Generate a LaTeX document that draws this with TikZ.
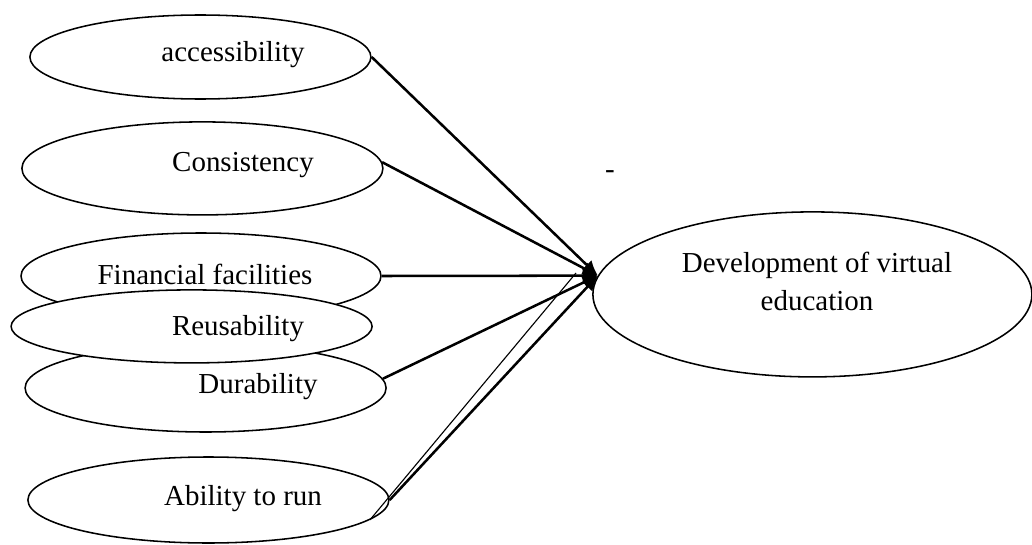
\documentclass[tikz,border=0pt]{standalone}
\usepackage{fontspec}
\setmainfont{Liberation Serif}
\usetikzlibrary{shapes.geometric,arrows.meta}

\tikzset{
    oval/.style={draw, ellipse, line width=1.1pt, fill=white, inner sep=0pt},
    link/.style={line width=1.8pt, -{Latex[length=0.38cm,width=0.34cm]}},
}

\begin{document}
\begin{tikzpicture}[font=\fontsize{20.6pt}{27pt}\selectfont]

    \useasboundingbox (0,0) rectangle (25.8,-13.625);

    % factors
    \node[oval, minimum width=8.525cm, minimum height=2.1cm] (acc) at (5.01,-1.425) {};
    \node[oval, minimum width=9.025cm, minimum height=2.325cm] (cons) at (5.06,-4.21) {};
    \node[oval, minimum width=9.0cm, minimum height=2.15cm] (fin) at (5.025,-6.9) {};
    \node[oval, minimum width=9.025cm, minimum height=2.2cm] (dur) at (5.14,-9.7) {};
    \node[oval, minimum width=9.025cm, minimum height=1.825cm] (reu) at (4.79,-8.16) {};
    \node[oval, minimum width=9.025cm, minimum height=2.15cm] (abl) at (5.21,-12.5) {};

    \node (acct) at (5.825,-1.375) {accessibility};
    \node (const) at (6.075,-4.125) {Consistency};
    \node (fint) at (5.125,-6.85) {Financial facilities};
    \node (reut) at (5.95,-8.225) {Reusability};
    \node (durt) at (6.45,-9.675) {Durability};
    \node (ablt) at (6.075,-12.475) {Ability to run};

    % goal
    \node[oval, minimum width=10.975cm, minimum height=4.125cm] (dev) at (20.31,-7.36) {};
    \node[align=center] (devt) at (20.425,-7.025) {Development of virtual\\education};
    \node (dash) at (15.25,-4.375) {-};

    \coordinate (tip) at (dev.175);
    \coordinate (thin) at (14.4,-6.825);

    \draw[link] (acc.east) -- (tip);
    \draw[link] (cons.2) -- (tip);
    \draw[link] (fin.east) -- (tip);
    \draw[link] (dur.3) -- (tip);
    \draw[link] (abl.east) -- (tip);
    \draw[line width=0.8pt] (abl.-7) -- (thin);

\end{tikzpicture}
\end{document}
